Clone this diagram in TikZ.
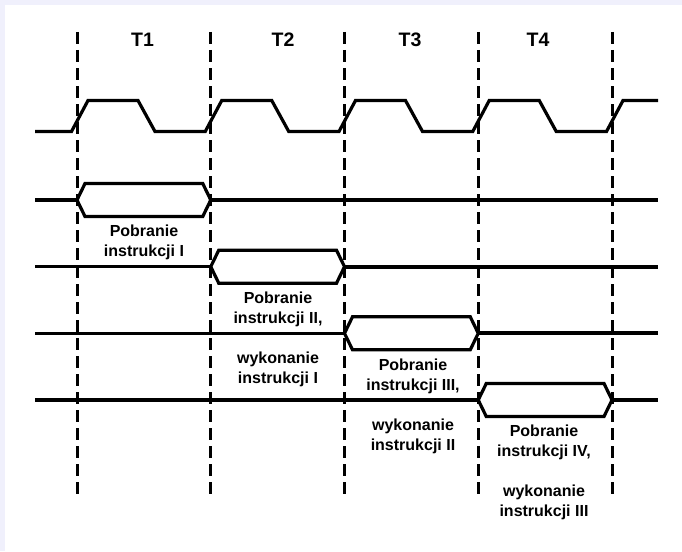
\documentclass[tikz,border=0pt]{standalone}
\usepackage{fontspec}
\setmainfont{Liberation Sans}
\usetikzlibrary{calc}
\definecolor{framelav}{RGB}{240,240,252}
\begin{document}
\begin{tikzpicture}[x=1pt,y=-1pt,
  wave/.style={line width=3.2pt,line join=miter,miter limit=4},
  busline/.style={line width=3.2pt},
  busout/.style={line width=3.8pt},
  dashline/.style={line width=3pt,dash pattern=on 12pt off 6pt},
  periodlabel/.style={font=\fontsize{19.5}{22}\selectfont\bfseries,inner sep=0pt},
  phaselabel/.style={font=\fontsize{16}{20}\selectfont\bfseries,align=center,inner sep=0pt,anchor=north}]
  % page and its tinted top/left edge
  \fill[white] (0,0) rectangle (682,551);
  \fill[framelav] (0,0) rectangle (682,5);
  \fill[framelav] (0,0) rectangle (5,551);
  \useasboundingbox (0,0) rectangle (682,551);

  % period boundaries
  \foreach \i/\x in {0/77,1/210.75,2/344.5,3/478.25,4/612}{
    \coordinate (d\i-top) at (\x,32);
    \coordinate (d\i-bot) at (\x,499);
    \draw[dashline] (d\i-top) -- (d\i-bot);
  }

  % period names
  \node[periodlabel] (t1) at (142.5,39.5) {T1};
  \node[periodlabel] (t2) at (283,39.5) {T2};
  \node[periodlabel] (t3) at (410,39.5) {T3};
  \node[periodlabel] (t4) at (538,39.5) {T4};

  % clock
  \draw[wave] (35,131.5)
    \foreach \x in {77,210.75,344.5,478.25}{
      -- (\x-5.5,131.5) -- (\x+11,100.5) -- (\x+61,100.5) -- (\x+78,131.5)
    }
    -- (606.5,131.5) -- (623,100.5) -- (658,100.5);

  % bus rows: one valid window per period
  \foreach \r/\xa/\xb/\y in {1/77/210.75/200,2/210.75/344.5/266.7,3/344.5/478.25/333.3,4/478.25/612/400}{
    \coordinate (r\r-in) at (35,\y);
    \coordinate (r\r-a) at (\xa,\y);
    \coordinate (r\r-b) at (\xb,\y);
    \coordinate (r\r-out) at (658,\y);
    \draw[busline] (r\r-in) -- (r\r-a);
    \draw[busout] (r\r-b) -- (r\r-out);
    \draw[busline,line join=miter] (r\r-a) -- ++(8,-16.5) -- ($(r\r-b)+(-8,-16.5)$) -- (r\r-b)
      -- ++(-8,16.5) -- ($(r\r-a)+(8,16.5)$) -- cycle;
  }

  % phase descriptions
  \node[phaselabel] (p1) at (144,225) {Pobranie\\instrukcji I};
  \node[phaselabel] (p2) at (278,291.7) {Pobranie\\instrukcji II,\\[20pt]wykonanie\\instrukcji I};
  \node[phaselabel] (p3) at (413,358.3) {Pobranie\\instrukcji III,\\[20pt]wykonanie\\instrukcji II};
  \node[phaselabel] (p4) at (544,425) {Pobranie\\instrukcji IV,\\[20pt]wykonanie\\instrukcji III};
\end{tikzpicture}
\end{document}
